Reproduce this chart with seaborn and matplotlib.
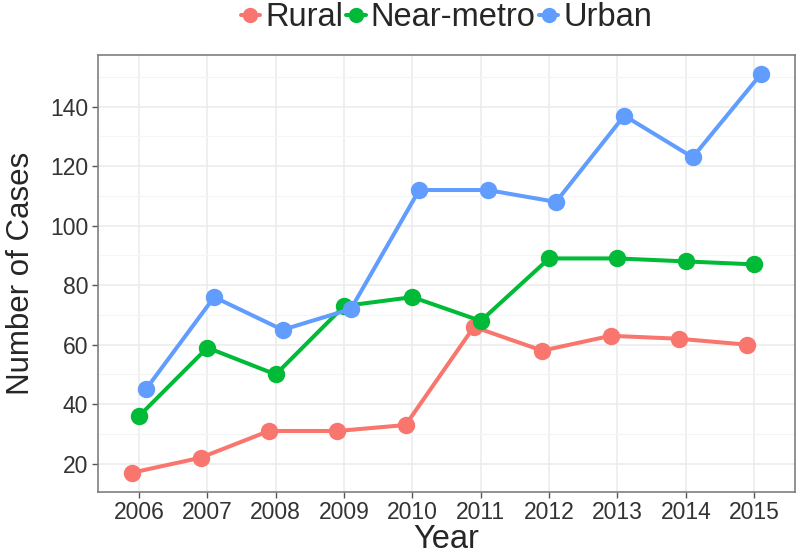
import pandas as pd
import matplotlib.pyplot as plt
import seaborn as sns
from matplotlib.ticker import MultipleLocator
from matplotlib.lines import Line2D

# Data
years = ['2006', '2007', '2008', '2009', '2010', '2011', '2012', '2013', '2014', '2015']
rural = [17, 22, 31, 31, 33, 66, 58, 63, 62, 60]
near_metro = [36, 59, 50, 73, 76, 68, 89, 89, 88, 87]
urban = [45, 76, 65, 72, 112, 112, 108, 137, 123, 151]

groups = ['Rural', 'Near-metro', 'Urban']
colors = ['#F8766D', '#00BA38', '#619CFF']

df = pd.concat([
    pd.DataFrame({'Year': years, 'Cases': vals, 'Area': name})
    for name, vals in zip(groups, [rural, near_metro, urban])
])

sns.set_style('white')
plt.rcParams['font.family'] = ['Liberation Sans', 'DejaVu Sans']

fig = plt.figure(figsize=(8, 5.56), dpi=100)
ax = fig.add_axes([0.1225, 0.1157, 0.8715, 0.786])

sns.pointplot(data=df, x='Year', y='Cases', hue='Area', hue_order=groups,
              palette=colors, order=years, dodge=0.2, errorbar=None,
              markers='o', markersize=10.5, ax=ax, legend=False)
# thicker connecting lines, like the reference
for ln in ax.lines:
    ln.set_linewidth(2.9)

# Axes styling, ggplot theme_bw look
ax.set_xlim(-0.6, 9.6)
ax.set_ylim(10.6, 157.5)
ax.yaxis.set_major_locator(MultipleLocator(20))
ax.yaxis.set_minor_locator(MultipleLocator(10))
ax.grid(which='major', color='#ebebeb', linewidth=1.1)
ax.grid(which='minor', axis='y', color='#f5f5f5', linewidth=0.8)
ax.set_axisbelow(True)
for s in ax.spines.values():
    s.set_color('#7f7f7f')
    s.set_linewidth(1.2)
ax.tick_params(axis='both', which='major', direction='out', length=4, width=1,
               color='#555555', labelsize=16.5, labelcolor='#333333', pad=3,
               left=True, bottom=True)
ax.tick_params(axis='y', which='minor', left=False)

ax.set_xlabel('Year', fontsize=23.5, labelpad=0)
ax.set_ylabel('Number of Cases', fontsize=22.5, labelpad=10)

# Legend on top, no title
handles = [Line2D([0], [0], color=c, marker='o', markersize=10, linewidth=2.9)
           for c in colors]
fig.legend(handles, groups, loc='center', bbox_to_anchor=(0.558, 0.968), ncol=3,
           frameon=False, fontsize=23.5, handlelength=0.6, handletextpad=0.15,
           columnspacing=0.1, borderaxespad=0)

plt.savefig('out.png', dpi=100)
